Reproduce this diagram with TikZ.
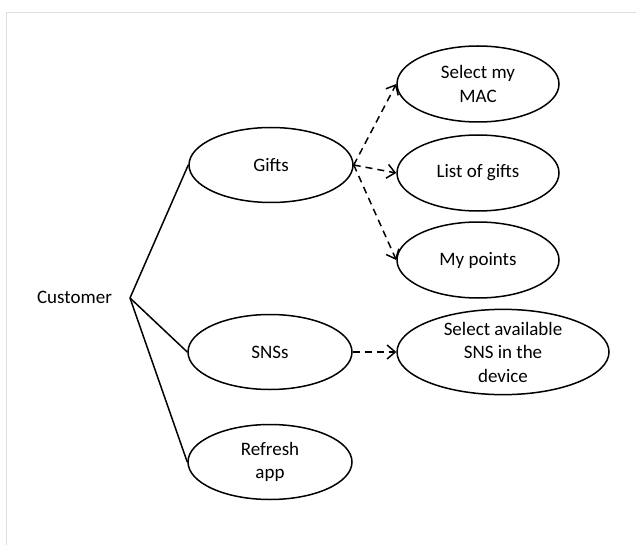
\documentclass[tikz,border=0pt]{standalone}
\usepackage{fontspec}
\setmainfont{Carlito}
\usetikzlibrary{shapes.geometric,arrows.meta}
\tikzset{
  uc/.style={draw=black, line width=1.5pt, ellipse, inner sep=0pt, align=center,
    font=\fontsize{19}{23.5}\selectfont},
  lcase/.style={uc, minimum width=164pt, minimum height=75pt},
  rcase/.style={uc, minimum width=162pt, minimum height=76pt},
  assoc/.style={draw=black, line width=1.5pt},
  dep/.style={draw=black, line width=1.5pt, dash pattern=on 7pt off 5pt,
    -{Straight Barb[length=8pt,width=14pt,line width=1.5pt]}},
  lbl/.style={font=\fontsize{19}{23.5}\selectfont, inner sep=0pt},
  frame/.style={draw=black!13, line width=1pt}
}
\begin{document}
\begin{tikzpicture}[x=1pt,y=-1pt]
\useasboundingbox (0,0) rectangle (636,545);
\draw[frame] (636,12.5) -- (6,12.5) -- (6,545);

\node[lbl] (cust) at (74.5,297.5) {Customer};
\coordinate (hub) at (130,298);

\node[lcase] (gifts) at (271,165) {Gifts};
\node[lcase] (sns) at (270,352) {SNSs};
\node[lcase] (refresh) at (270,462) {Refresh\\app};

\node[rcase] (mac) at (478,84) {Select my\\MAC};
\node[rcase] (list) at (478,173) {List of gifts};
\node[rcase] (points) at (478,260) {My points};
\node[uc, minimum width=212pt, minimum height=78pt] (avail) at (503,352) {Select available\\SNS in the\\device};

\draw[assoc] (hub) -- (gifts.west);
\draw[assoc] (hub) -- (sns.west);
\draw[assoc] (hub) -- (refresh.west);

\draw[dep] (gifts.east) -- (mac.west);
\draw[dep] (gifts.east) -- (list.west);
\draw[dep] (gifts.east) -- (points.west);
\draw[dep] (sns.east) -- (avail.west);
\end{tikzpicture}
\end{document}
